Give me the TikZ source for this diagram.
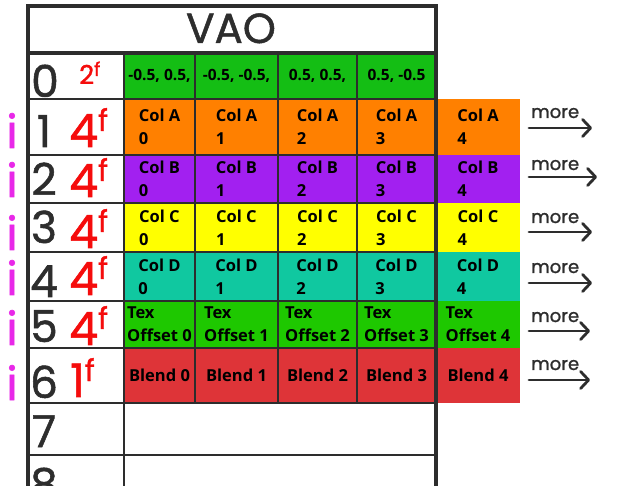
\documentclass[tikz,border=0pt]{standalone}
\usepackage{fontspec}
\setmainfont{Open Sans}
\newfontfamily\handfont{Poppins}[FakeBold=1.2]
\usetikzlibrary{arrows.meta, positioning}
\definecolor{gridgray}{RGB}{45,45,45}
\definecolor{posgreen}{RGB}{20,190,20}
\definecolor{colaorange}{RGB}{255,128,0}
\definecolor{colbpurple}{RGB}{162,32,240}
\definecolor{colcyellow}{RGB}{255,255,0}
\definecolor{coldteal}{RGB}{16,200,160}
\definecolor{texgreen}{RGB}{30,200,0}
\definecolor{blendred}{RGB}{222,52,56}
\definecolor{sizered}{RGB}{245,12,12}
\definecolor{idxpink}{RGB}{232,40,232}
\newcommand{\fsize}[1]{#1\raisebox{16pt}{\fontsize{30}{30}\selectfont f}}

\begin{document}
\begin{tikzpicture}[
    x=1pt, y=-1pt,
    cell/.style={rectangle, draw=gridgray, line width=1.6pt, inner sep=0pt, outer sep=0pt, align=left, text=black, font=\fontsize{16.5}{23}\selectfont\bfseries},
    spill/.style={cell, draw=none},
    k0/.style={minimum width=71pt},
    k1/.style={minimum width=83pt},
    k2/.style={minimum width=79pt},
    k3/.style={minimum width=79pt},
    k4/.style={minimum width=84pt},
    rpos/.style={fill=posgreen, minimum height=46pt, align=center, font=\fontsize{15.5}{20}\selectfont\bfseries},
    rcola/.style={fill=colaorange, minimum height=56pt},
    rcolb/.style={fill=colbpurple, minimum height=48pt},
    rcolc/.style={fill=colcyellow, minimum height=49pt},
    rcold/.style={fill=coldteal, minimum height=49pt},
    rtex/.style={fill=texgreen, minimum height=47pt},
    rblend/.style={fill=blendred, minimum height=55pt, align=center},
    frame/.style={draw=gridgray, line width=3.5pt, line cap=round},
    grid/.style={draw=gridgray, line width=2.5pt},
    digit/.style={anchor=base, inner sep=0pt, font=\handfont\fontsize{44}{44}\selectfont, text=gridgray},
    sizelbl/.style={anchor=base west, inner sep=0pt, font=\handfont\fontsize{46}{46}\selectfont, text=sizered},
    idxmark/.style={anchor=base, inner sep=0pt, font=\handfont\fontsize{46}{46}\selectfont, text=idxpink},
    morelbl/.style={anchor=base west, inner sep=0pt, font=\handfont\fontsize{18}{18}\selectfont, text=gridgray},
    more/.style={draw=gridgray, line width=2.8pt, line cap=round, -{Straight Barb[length=8pt, width=17pt, line cap=round, line join=round]}}
]
\useasboundingbox[fill=white] (0,0) rectangle (643,486);

% position row
\node[cell, rpos, k0] (P0) at (159.5,76) {-0.5, 0.5,};
\node[cell, rpos, k1] (P1) at (236.5,76) {-0.5, -0.5,};
\node[cell, rpos, k2] (P2) at (317.5,76) {0.5, 0.5,};
\node[cell, rpos, k3] (P3) at (396.5,76) {0.5, -0.5};

% colour rows
\node[cell, rcola, k0] (A0) at (159.5,127) {Col A\\0};
\node[cell, rcola, k1] (A1) at (236.5,127) {Col A\\1};
\node[cell, rcola, k2] (A2) at (317.5,127) {Col A\\2};
\node[cell, rcola, k3] (A3) at (396.5,127) {Col A\\3};
\node[spill, rcola, k4] (A4) at (478,127) {Col A\\4};

\node[cell, rcolb, k0] (B0) at (159.5,179) {Col B\\0};
\node[cell, rcolb, k1] (B1) at (236.5,179) {Col B\\1};
\node[cell, rcolb, k2] (B2) at (317.5,179) {Col B\\2};
\node[cell, rcolb, k3] (B3) at (396.5,179) {Col B\\3};
\node[spill, rcolb, k4] (B4) at (478,179) {Col B\\4};

\node[cell, rcolc, k0] (C0) at (159.5,227.5) {Col C\\0};
\node[cell, rcolc, k1] (C1) at (236.5,227.5) {Col C\\1};
\node[cell, rcolc, k2] (C2) at (317.5,227.5) {Col C\\2};
\node[cell, rcolc, k3] (C3) at (396.5,227.5) {Col C\\3};
\node[spill, rcolc, k4] (C4) at (478,227.5) {Col C\\4};

\node[cell, rcold, k0] (D0) at (159.5,276.5) {Col D\\0};
\node[cell, rcold, k1] (D1) at (236.5,276.5) {Col D\\1};
\node[cell, rcold, k2] (D2) at (317.5,276.5) {Col D\\2};
\node[cell, rcold, k3] (D3) at (396.5,276.5) {Col D\\3};
\node[spill, rcold, k4] (D4) at (478,276.5) {Col D\\4};

% texture offsets and blend
\node[cell, rtex, k0] (T0) at (159.5,324.5) {Tex\\Offset 0};
\node[cell, rtex, k1] (T1) at (236.5,324.5) {Tex\\Offset 1};
\node[cell, rtex, k2] (T2) at (317.5,324.5) {Tex\\Offset 2};
\node[cell, rtex, k3] (T3) at (396.5,324.5) {Tex\\Offset 3};
\node[spill, rtex, k4] (T4) at (478,324.5) {Tex\\Offset 4};

\node[cell, rblend, k0] (L0) at (159.5,375.5) {Blend 0};
\node[cell, rblend, k1] (L1) at (236.5,375.5) {Blend 1};
\node[cell, rblend, k2] (L2) at (317.5,375.5) {Blend 2};
\node[cell, rblend, k3] (L3) at (396.5,375.5) {Blend 3};
\node[spill, rblend, k4] (L4) at (478,375.5) {Blend 4};

% table frame
\draw[grid] (124,53) -- (124,486);
\draw[grid] (28,99) -- (124,99) (28,155) -- (124,155) (28,203) -- (124,203)
            (28,252) -- (124,252) (28,301) -- (124,301) (28,348) -- (124,348)
            (28,403) -- (436,403) (28,455) -- (436,455);
\draw[frame] (28,53) -- (436,53);
\draw[frame] (28,490) -- (28,6) -- (436,6) -- (436,490);

\node[anchor=base, inner sep=0pt, font=\handfont\fontsize{42}{42}\selectfont, text=gridgray] (title) at (231,43) {VAO};

% attribute numbers
\node[digit] (n0) at (45,97) {0};
\node[digit] (n1) at (44,147) {1};
\node[digit] (n2) at (44,195) {2};
\node[digit] (n3) at (44,243) {3};
\node[digit] (n4) at (44,297) {4};
\node[digit] (n5) at (44,342) {5};
\node[digit] (n6) at (44,398) {6};
\node[digit] (n7) at (44,447) {7};
\node[digit] (n8) at (44,500) {8};

% sizes
\node[sizelbl, font=\handfont\fontsize{26}{26}\selectfont] (s0) at (79,84) {2\raisebox{8pt}{\fontsize{19}{19}\selectfont f}};
\node[sizelbl] (s1) at (69,147) {\fsize{4}};
\node[sizelbl] (s2) at (69,197) {\fsize{4}};
\node[sizelbl] (s3) at (69,248) {\fsize{4}};
\node[sizelbl] (s4) at (69,295) {\fsize{4}};
\node[sizelbl] (s5) at (69,345) {\fsize{4}};
\node[sizelbl] (s6) at (70,397) {\fsize{1}};

% index marks
\node[idxmark] (i1) at (12,148) {i};
\node[idxmark] (i2) at (12,197) {i};
\node[idxmark] (i3) at (12,250) {i};
\node[idxmark] (i4) at (12,295) {i};
\node[idxmark] (i5) at (12,345) {i};
\node[idxmark] (i6) at (12,400) {i};

% more
\node[morelbl] (m1) at (531,118) {more};
\node[morelbl] (m2) at (531,170) {more};
\node[morelbl] (m3) at (531,223) {more};
\node[morelbl] (m4) at (531,273) {more};
\node[morelbl] (m5) at (531,322) {more};
\node[morelbl] (m6) at (531,370) {more};
\coordinate (a1s) at (529,128); \coordinate (a1e) at (592,128);
\coordinate (a2s) at (529,177); \coordinate (a2e) at (597,177);
\coordinate (a3s) at (529,232); \coordinate (a3e) at (592,232);
\coordinate (a4s) at (529,283); \coordinate (a4e) at (592,283);
\coordinate (a5s) at (529,331); \coordinate (a5e) at (590,331);
\coordinate (a6s) at (529,380); \coordinate (a6e) at (590,380);
\draw[more] (a1s) -- (a1e);
\draw[more] (a2s) -- (a2e);
\draw[more] (a3s) -- (a3e);
\draw[more] (a4s) -- (a4e);
\draw[more] (a5s) -- (a5e);
\draw[more] (a6s) -- (a6e);
\end{tikzpicture}
\end{document}
